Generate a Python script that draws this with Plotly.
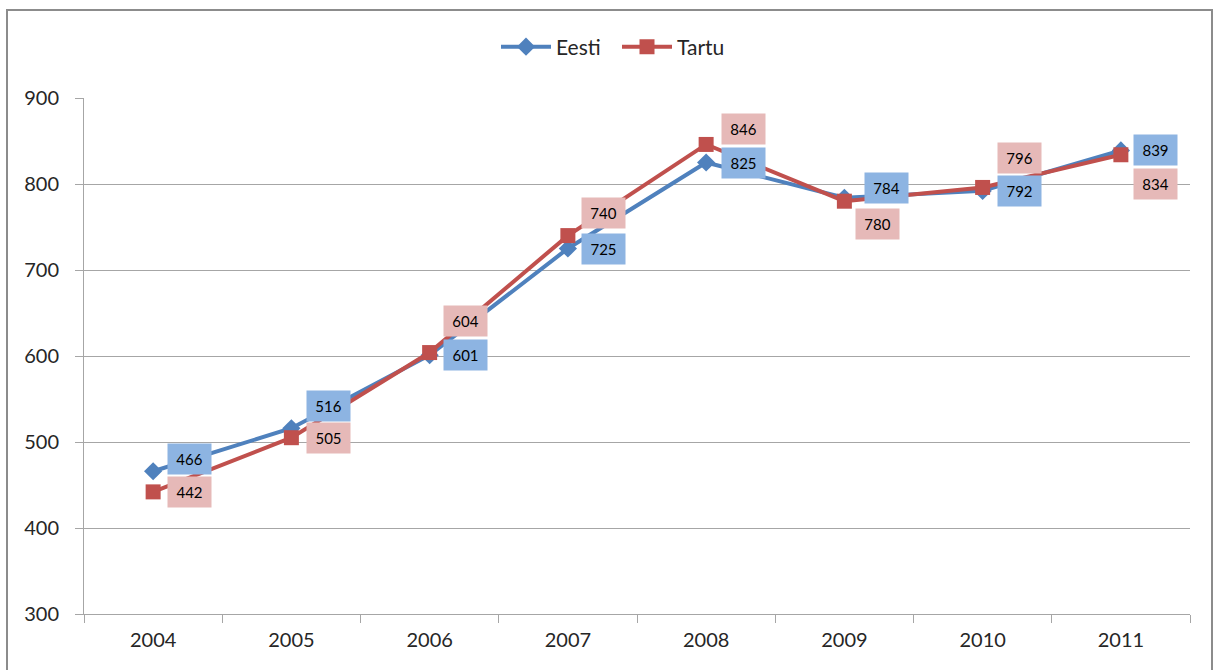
import plotly.graph_objects as go

years = ["2004", "2005", "2006", "2007", "2008", "2009", "2010", "2011"]
eesti = [466, 516, 601, 725, 825, 784, 792, 839]
tartu = [442, 505, 604, 740, 846, 780, 796, 834]

# label placement (pixel shifts, style only)
eesti_xshift = [36, 37, 36, 36, 37, 42, 37, 35]
eesti_yshift = [12, 22, 0, 0, 0, 10, 0, 0]
tartu_xshift = [36, 37, 36, 36, 37, 33, 37, 35]
tartu_yshift = [0, 0, 32, 23, 15, -23, 29, -29]

BLUE = "#4F81BD"
RED = "#C0504D"
BLUE_LBL = "#8DB4E2"
RED_LBL = "#E6B9B8"
GRID = "#A6A6A6"
FONT = "Lato, 'Open Sans', sans-serif"

W, H = 1216, 670
L, R, T, B = 84, 1190, 98, 614

fig = go.Figure()
fig.add_trace(go.Scatter(x=years, y=eesti, name="Eesti", mode="lines+markers",
                         line=dict(color=BLUE, width=4),
                         marker=dict(symbol="diamond", size=14, color=BLUE)))
fig.add_trace(go.Scatter(x=years, y=tartu, name="Tartu", mode="lines+markers",
                         line=dict(color=RED, width=4),
                         marker=dict(symbol="square", size=15, color=RED)))

anns = []
for i in range(len(years)):
    anns.append(dict(x=i, y=eesti[i], xref="x", yref="y", text=str(eesti[i]), showarrow=False,
                     xshift=eesti_xshift[i], yshift=eesti_yshift[i],
                     bgcolor=BLUE_LBL, width=41, height=28,
                     font=dict(family=FONT, size=15, color="#000000")))
    anns.append(dict(x=i, y=tartu[i], xref="x", yref="y", text=str(tartu[i]), showarrow=False,
                     xshift=tartu_xshift[i], yshift=tartu_yshift[i],
                     bgcolor=RED_LBL, width=41, height=28,
                     font=dict(family=FONT, size=15, color="#000000")))

pw, ph = R - L, B - T
def px(xp):
    return (xp - L) / pw
def py(yp):
    return (B - yp) / ph

fig.update_layout(
    width=W, height=H,
    margin=dict(l=L, r=W - R, t=T, b=H - B),
    paper_bgcolor="white", plot_bgcolor="white",
    font=dict(family=FONT, color="#262626"),
    annotations=anns,
    showlegend=True,
    legend=dict(orientation="h", x=px(496), xanchor="left", y=py(47), yanchor="middle",
                font=dict(size=21, color="#262626"), itemwidth=50,
                entrywidth=56, entrywidthmode="pixels"),
    shapes=[dict(type="rect", xref="paper", yref="paper",
                 x0=px(7), x1=px(1212), y0=py(700), y1=py(10),
                 line=dict(color="#8C8C8C", width=2), layer="below")],
    xaxis=dict(type="category", range=[-0.5, 7.5], showgrid=False,
               showline=True, linecolor=GRID, linewidth=1,
               ticks="outside", tickson="boundaries", ticklen=8, tickcolor=GRID,
               ticklabelstandoff=8,
               tickfont=dict(size=20, color="#262626")),
    yaxis=dict(range=[300, 900], dtick=100, showgrid=True, gridcolor=GRID, gridwidth=1,
               showline=True, linecolor=GRID, linewidth=1,
               ticks="outside", ticklen=8, tickcolor=GRID, ticklabelstandoff=12,
               tickfont=dict(size=20, color="#262626"), zeroline=False),
)

fig.write_html("out.html", config={"displayModeBar": False},
               post_script="document.body.style.margin='0';document.body.style.overflow='hidden';")
